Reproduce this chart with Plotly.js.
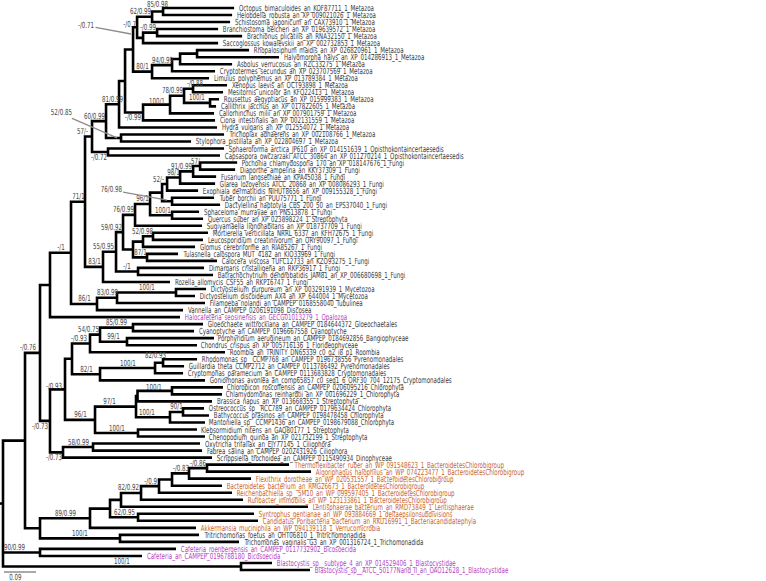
<!DOCTYPE html>
<html><head><meta charset="utf-8">
<script src="https://cdn.plot.ly/plotly-3.0.1.min.js"></script>
<style>html,body{margin:0;padding:0;background:#fff}</style>
</head><body><div id="chart" style="width:766px;height:581px"></div>
<script>
// ---------------- DATA ----------------
const leafNames = [
"Octopus_bimaculoides_an_KOF87711_1_Metazoa",
"Helobdella_robusta_an_XP_009021026_1_Metazoa",
"Schistosoma_japonicum_an_CAX73910_1_Metazoa",
"Branchiostoma_belcheri_an_XP_019639572_1_Metazoa",
"Brachionus_plicatilis_an_RNA32150_1_Metazoa",
"Saccoglossus_kowalevskii_an_XP_002732853_1_Metazoa",
"Rhopalosiphum_maidis_an_XP_026820961_1_Metazoa",
"Halyomorpha_halys_an_XP_014286913_1_Metazoa",
"Asbolus_verrucosus_an_RZC33275_1_Metazoa",
"Cryptotermes_secundus_an_XP_023707569_1_Metazoa",
"Limulus_polyphemus_an_XP_013789384_1_Metazoa",
"Xenopus_laevis_an_OCT93898_1_Metazoa",
"Mesitornis_unicolor_an_KFQ22413_1_Metazoa",
"Rousettus_aegyptiacus_an_XP_015999383_1_Metazoa",
"Callithrix_jacchus_an_XP_017822605_1_Metazoa",
"Callorhinchus_milii_an_XP_007901759_1_Metazoa",
"Ciona_intestinalis_an_XP_002131559_1_Metazoa",
"Hydra_vulgaris_an_XP_012554072_1_Metazoa",
"Trichoplax_adhaerens_an_XP_002108766_1_Metazoa",
"Stylophora_pistillata_an_XP_022804697_1_Metazoa",
"Sphaeroforma_arctica_JP610_an_XP_014151639_1_Opisthokontaincertaesedis",
"Capsaspora_owczarzaki_ATCC_30864_an_XP_011270214_1_Opisthokontaincertaesedis",
"Pochonia_chlamydosporia_170_an_XP_018147676_1_Fungi",
"Diaporthe_ampelina_an_KKY37309_1_Fungi",
"Fusarium_langsethiae_an_KPA45038_1_Fungi",
"Glarea_lozoyensis_ATCC_20868_an_XP_008086293_1_Fungi",
"Exophiala_dermatitidis_NIHUT8656_an_XP_009155328_1_Fungi",
"Tuber_borchii_an_PUU75771_1_Fungi",
"Dactylellina_haptotyla_CBS_200_50_an_EPS37040_1_Fungi",
"Sphaceloma_murrayae_an_PNS13878_1_Fungi",
"Quercus_suber_an_XP_023898224_1_Streptophyta",
"Sugiyamaella_lignohabitans_an_XP_018737709_1_Fungi",
"Mortierella_verticillata_NRRL_6337_an_KFH72675_1_Fungi",
"Leucosporidium_creatinivorum_an_ORY90097_1_Fungi",
"Glomus_cerebriforme_an_RIA85267_1_Fungi",
"Tulasnella_calospora_MUT_4182_an_KIO33969_1_Fungi",
"Calocera_viscosa_TUFC12733_an_KZO93275_1_Fungi",
"Dimargaris_cristalligena_an_RKP36917_1_Fungi",
"Batrachochytrium_dendrobatidis_JAM81_an_XP_006680698_1_Fungi",
"Rozella_allomycis_CSF55_an_RKP16747_1_Fungi",
"Dictyostelium_purpureum_an_XP_003291939_1_Mycetozoa",
"Dictyostelium_discoideum_AX4_an_XP_644004_1_Mycetozoa",
"Filamoeba_nolandi_an_CAMPEP_0168558040_Tubulinea",
"Vannella_an_CAMPEP_0206191098_Discosea",
"Halocafeteria_seosinensis_an_GECG01013279_1_Opalozoa",
"Gloeochaete_wittrockiana_an_CAMPEP_0184644372_Gloeochaetales",
"Cyanoptyche_an_CAMPEP_0196667558_Cyanoptyche",
"Porphyridium_aerugineum_an_CAMPEP_0184692856_Bangiophyceae",
"Chondrus_crispus_an_XP_005716136_1_Florideophyceae",
"Roombia_an_TRINITY_DN65339_c0_g2_i8_p1_Roombia",
"Rhodomonas_sp__CCMP768_an_CAMPEP_0196738556_Pyrenomonadales",
"Guillardia_theta_CCMP2712_an_CAMPEP_0113786492_Pyrenomonadales",
"Cryptomonas_paramecium_an_CAMPEP_0113683828_Cryptomonadales",
"Goniomonas_avonlea_an_comp65857_c0_seq1_6_ORF30_704_12175_Cryptomonadales",
"Chloropicon_roscoffensis_an_CAMPEP_0206095216_Chlorophyta",
"Chlamydomonas_reinhardtii_an_XP_001696229_1_Chlorophyta",
"Brassica_napus_an_XP_013668355_1_Streptophyta",
"Ostreococcus_sp__RCC789_an_CAMPEP_0179634424_Chlorophyta",
"Bathycoccus_prasinos_an_CAMPEP_0198478458_Chlorophyta",
"Mantoniella_sp__CCMP1436_an_CAMPEP_0198679088_Chlorophyta",
"Klebsormidium_nitens_an_GAQ80177_1_Streptophyta",
"Chenopodium_quinoa_an_XP_021732199_1_Streptophyta",
"Oxytricha_trifallax_an_EJY77145_1_Ciliophora",
"Fabrea_salina_an_CAMPEP_0202431926_Ciliophora",
"Scrippsiella_trochoidea_an_CAMPEP_0115490934_Dinophyceae",
"Thermoflexibacter_ruber_an_WP_091548623_1_BacteroidetesChlorobigroup",
"Algoriphagus_halophilus_an_WP_074223477_1_BacteroidetesChlorobigroup",
"Flexithrix_dorotheae_an_WP_020531557_1_BacteroidetesChlorobigroup",
"Bacteroidetes_bacterium_an_RMG26673_1_BacteroidetesChlorobigroup",
"Reichenbachiella_sp__5M10_an_WP_099597405_1_BacteroidetesChlorobigroup",
"Rufibacter_immobilis_an_WP_123133861_1_BacteroidetesChlorobigroup",
"Lentisphaerae_bacterium_an_RMD73849_1_Lentisphaerae",
"Syntrophus_gentianae_an_WP_093884669_1_deltaepsilonsubdivisions",
"Candidatus_Poribacteria_bacterium_an_RKU16991_1_Bacteriacandidatephyla",
"Akkermansia_muciniphila_an_WP_094139118_1_Verrucomicrobia",
"Tritrichomonas_foetus_an_OHT06810_1_Tritrichomonadida",
"Trichomonas_vaginalis_G3_an_XP_001316724_1_Trichomonadida",
"Cafeteria_roenbergensis_an_CAMPEP_0117732902_Bicosoecida",
"Cafeteria_an_CAMPEP_0196788180_Bicosoecida",
"Blastocystis_sp__subtype_4_an_XP_014529406_1_Blastocystidae",
"Blastocystis_sp__ATCC_50177Nand_II_an_OAO12628_1_Blastocystidae"
];
// clade of each leaf: e = other eukaryote, s = stramenopile/opalozoa, b = bacteria
const leafClade = [
"e","e","e","e","e","e","e","e","e","e","e","e","e","e","e","e","e","e","e","e",
"e","e","e","e","e","e","e","e","e","e","e","e","e","e","e","e","e","e","e","e",
"e","e","e","e","s","e","e","e","e","e","e","e","e","e","e","e","e","e","e","e",
"e","e","e","e","e","b","b","b","b","b","b","b","b","b","b","e","e","s","s","s","s"
];
// topology + branch lengths (substitutions/site); leaves referenced by index into leafNames
const treeNewick =
"((((((((((((((0:0.1997,1:0.1941)A1:0.0309,2:0.2194)A2:0.0422,((3:0.1716,4:0.2391)A3:0.0394,5:0.2109)A4:0.0169)B:0.0113," +
"((((6:0.1463,7:0.2306)D1:0.0478,8:0.1463)D2:0.0225,9:0.1209)D3:0.0563,10:0.1603)D4:0.0534)C:0.0225," +
"((((11:0.0956,12:0.0844)V1:0.0253,(13:0.0253,14:0.0169)V2:0.0731)V3:0.0394,15:0.1238)V4:0.0759,16:0.2025)V5:0.0506)E:0.0169," +
"17:0.2756)F:0.0366,(18:0.2897,19:0.1969)H:0.0422)G:0.0394,(20:0.3263,21:0.3150)J:0.0450)K:0.0197," +
"((((((((((22:0.1041,23:0.0984)N1:0.0197,24:0.0647)N2:0.0366,25:0.0984)N3:0.0366,26:0.0872)N4:0.0141," +
"(27:0.1181,28:0.1350)N6:0.0281)N5:0.0338,(29:0.0759,30:0.0872)N8:0.0619)N7:0.0422,31:0.1884)N9:0.0338," +
"(((32:0.1547,33:0.1406)Q1:0.0281,34:0.1463)Q2:0.0281,(35:0.0872,36:0.1969)P1:0.0394)Q3:0.0281)X:0.0197," +
"(37:0.1856,38:0.2109)R1:0.0619)Fc:0.0366,39:0.1884)M:0.0506)L:0.0394," +
"(((40:0.0844,41:0.0534)DD:0.1659,42:0.2475)FD:0.0563,43:0.2419)AM:0.0731)T:0.0591,44:0.3656)U:0.0281," +
"((((((45:0.1969,46:0.1716)GC:0.0928,(47:0.2447,48:0.1969)RA:0.0759)GR:0.0281,49:0.3797)GRR:0.0506," +
"(((50:0.0956,51:0.0591)CR1:0.0225,52:0.0788)CR2:0.1547,53:0.2953)CR3:0.0788)HA:0.0197," +
"((((54:0.1434,55:0.1406)CP1:0.0970,56:0.2095)CP2:0.0042,((57:0.0591,58:0.0731)PR1:0.0366,59:0.0984)PR2:0.0956)W:0.1153," +
"(60:0.1659,61:0.1884)KC:0.1209)V:0.0844)Z:0.0422,((62:0.3009,63:0.3066)CI:0.0844,64:0.4191)AL:0.0366)Y2:0.0281)N40:0.0422," +
"(((((((((65:0.2306,66:0.2925)BA1:0.0506,67:0.1744)BA2:0.0478,68:0.1406)BA3:0.0366,69:0.2053)BA4:0.0506,70:0.2869)BA5:0.0563," +
"71:0.5259)BA6:0.0309,(72:0.3263,73:0.3375)BA7:0.0788)BA8:0.0563,74:0.2981)BAC:0.1406,(75:0.2222,76:0.3347)TR:0.2250)BT:0.0422)N25:0.0619," +
"(77:0.3825,78:0.2869)CF:0.1041,(79:0.0872,80:0.1941)BL:0.6694);";
// bootstrap / posterior support per internal node
const supportLabels = {
A1:"85/0.98",A2:"62/0.99",B:"-/0.7",A3:"-/0.99",C:"-/0.71",D3:"94/0.99",D4:"80/1",
V1:"-/0.88",V2:"100/1",V3:"78/0.99",V4:"100/1",V5:"-/0.99",F:"81/0.99",G:"60/0.99",H:"52/0.85",
K:"57/-",J:"-/0.72",L:"71/1",N1:"57/-",N2:"91/0.99",N3:"98/1",N4:"52/-",N6:"76/0.98",N7:"96/1",N8:"100/1",
N9:"76/0.99",X:"59/0.92",Q1:"52/0.98",P1:"87/1",Fc:"55/0.95",R1:"-/1",M:"83/1",T:"-/1",
DD:"100/1",FD:"83/0.99",AM:"86/1",N40:"-/0.76",GC:"85/0.99",GR:"54/0.75",RA:"99/1",GRR:"-/0.93",
CR1:"82/0.93",CR2:"100/1",CR3:"82/1",Z:"-/0.93",CP1:"100/1",W:"97/1",PR1:"90/1",PR2:"100/1",V:"96/1",KC:"100/1",
Y2:"-/0.73",CI:"58/0.99",AL:"-/0.73",BA1:"-/0.86",BA2:"-/0.83",BA4:"-/0.9",BA5:"82/0.92",BA7:"62/0.95",
BAC:"89/0.99",TR:"100/1",CF:"90/0.99",BL:"100/1"
};
const scaleBarLength = 0.09;

// ---------------- STYLE / PLACEMENT ----------------
const PX_PER_UNIT = 32/0.09;      // 0.09 units drawn as 32 px
const ROOT_PX = 3;
const ROW_PX = 7.025, TOP_PX = 8;
const W = 766, H = 581;
const FONT = "'DejaVu Sans Condensed','DejaVu Sans',sans-serif";
const FS = 8.4, SX = 0.73;        // glyph size and horizontal condensation
const cladeColor = {e:"#3a3a3a", s:"#b43fbf", b:"#c8642a"};
// label nudges in px [dx, dy(down)] relative to the branch-midpoint default
const labelNudge = {A1:[0,-2],A2:[-4.5,0],B:[-6,2],A3:[-2.5,0],V1:[6,0],V3:[-5,0],V4:[0,2],V5:[-1,10],
 G:[-4.5,0],K:[-6,0],J:[-1.5,10.8],N2:[-5.5,0],N4:[-6.5,0],N8:[2,0],N9:[-5.5,0],X:[-8,0],Q1:[-6,0],Fc:[-6,0],
 GR:[-6.5,0],GRR:[-2,0],N40:[-5,0],CR1:[-4,-2.5],Z:[-3.5,2],CP1:[-1,2],W:[-6.5,0],PR2:[-6.5,0],
 Y2:[-5,11],AL:[-2.5,10.5],BA5:[-2.5,0],CF:[-7.5,0]};
// callouts: target offset from node [px], text offset from target [px]
const callouts = {C:{t:[-2,-15.5],a:[-48,-9]}, H:{t:[-4,0],a:[-60,-26]}, N6:{t:[-5,-1],a:[-60,-11]}};

// ---------------- PARSE + LAYOUT ----------------
function parseNewick(str){
  let i=0;
  function node(){
    const n={children:[],name:"",len:0};
    if(str[i]==="("){
      i++; n.children.push(node());
      while(str[i]===","){i++; n.children.push(node());}
      i++;
    }
    let name=""; while(i<str.length && !":,();".includes(str[i])) name+=str[i++];
    n.name=name;
    if(str[i]===":"){i++; let num=""; while(i<str.length && !",();".includes(str[i])) num+=str[i++]; n.len=parseFloat(num);}
    return n;
  }
  return node();
}
const root = parseNewick(treeNewick);
function layout(n, x0, parent){
  n.x = x0 + (parent ? n.len : 0); n.parent = parent;
  if(n.children.length===0){ n.y = parseInt(n.name,10); }
  else { n.children.forEach(c=>layout(c, n.x, n)); n.y = (n.children[0].y + n.children[n.children.length-1].y)/2; }
}
layout(root, 0, null);
const all=[]; (function walk(n){all.push(n); n.children.forEach(walk);})(root);

// ---------------- TRACES ----------------
const lx=[], ly=[];
all.forEach(n=>{
  if(!n.children.length) return;
  const f=n.children[0], l=n.children[n.children.length-1];
  lx.push(f.x, n.x, n.x, l.x, null); ly.push(f.y, f.y, l.y, l.y, null);
  n.children.slice(1,-1).forEach(c=>{ lx.push(n.x, c.x, null); ly.push(c.y, c.y, null); });
});
lx.push(-ROOT_PX/PX_PER_UNIT, 0, null); ly.push(root.y, root.y, null);
const traces=[{type:"scatter",mode:"lines",x:lx,y:ly,line:{color:"#000",width:2.6},hoverinfo:"skip",showlegend:false}];
const sbY = (572-TOP_PX)/ROW_PX;
traces.push({type:"scatter",mode:"lines",x:[1/PX_PER_UNIT,1/PX_PER_UNIT+scaleBarLength],y:[sbY,sbY],line:{color:"#555",width:1},hoverinfo:"skip",showlegend:false});

const ann=[], annKind=[];
all.forEach(n=>{
  if(!n.children.length){
    const idx=parseInt(n.name,10);
    ann.push({x:n.x,y:n.y,text:leafNames[idx],showarrow:false,xanchor:"left",yanchor:"middle",xshift:2.5,
      font:{family:FONT,size:FS,color:cladeColor[leafClade[idx]]}});
    annKind.push("left");
  } else if(supportLabels[n.name]){
    const txt=supportLabels[n.name];
    const font={family:FONT,size:FS,color:"#444"};
    if(callouts[n.name]){
      const c=callouts[n.name];
      ann.push({x:n.x + c.t[0]/PX_PER_UNIT, y:n.y + c.t[1]/ROW_PX, text:txt, showarrow:true, arrowhead:0,
        arrowwidth:1.3, arrowcolor:"#8c8c8c", ax:c.a[0], ay:c.a[1], standoff:0, font});
      annKind.push(c.a[0]<0?"right":"center");
    } else {
      const nd=labelNudge[n.name]||[0,0];
      ann.push({x:(n.parent.x+n.x)/2, y:n.y, text:txt, showarrow:false, xanchor:"center", yanchor:"middle",
        xshift:nd[0], yshift:5.5-nd[1], font});
      annKind.push("center");
    }
  }
});
ann.push({x:1/PX_PER_UNIT+scaleBarLength/2,y:sbY,text:String(scaleBarLength),showarrow:false,yanchor:"middle",
  xshift:-5,yshift:-4.5,font:{family:FONT,size:FS,color:"#444"}});
annKind.push("center");

const layoutObj={width:W,height:H,margin:{l:0,r:0,t:0,b:0},paper_bgcolor:"#fff",plot_bgcolor:"#fff",
  xaxis:{range:[-ROOT_PX/PX_PER_UNIT,(W-ROOT_PX)/PX_PER_UNIT],visible:false,fixedrange:true},
  yaxis:{range:[(H-TOP_PX)/ROW_PX,-TOP_PX/ROW_PX],visible:false,fixedrange:true},
  annotations:ann,showlegend:false};
Plotly.newPlot("chart",traces,layoutObj,{displayModeBar:false,staticPlot:true}).then(gd=>{
  // horizontally condense annotation text to match the narrow reference typeface
  gd.querySelectorAll(".annotation").forEach(g=>{
    const i=+g.getAttribute("data-index"); const t=g.querySelector("text.annotation-text"); if(!t) return;
    const bb=t.getBBox(); const kind=annKind[i];
    const ox = kind==="left"? bb.x : kind==="right"? bb.x+bb.width : bb.x+bb.width/2;
    t.setAttribute("transform",`translate(${ox},0) scale(${SX},1) translate(${-ox},0)`);
  });
});
</script></body></html>
